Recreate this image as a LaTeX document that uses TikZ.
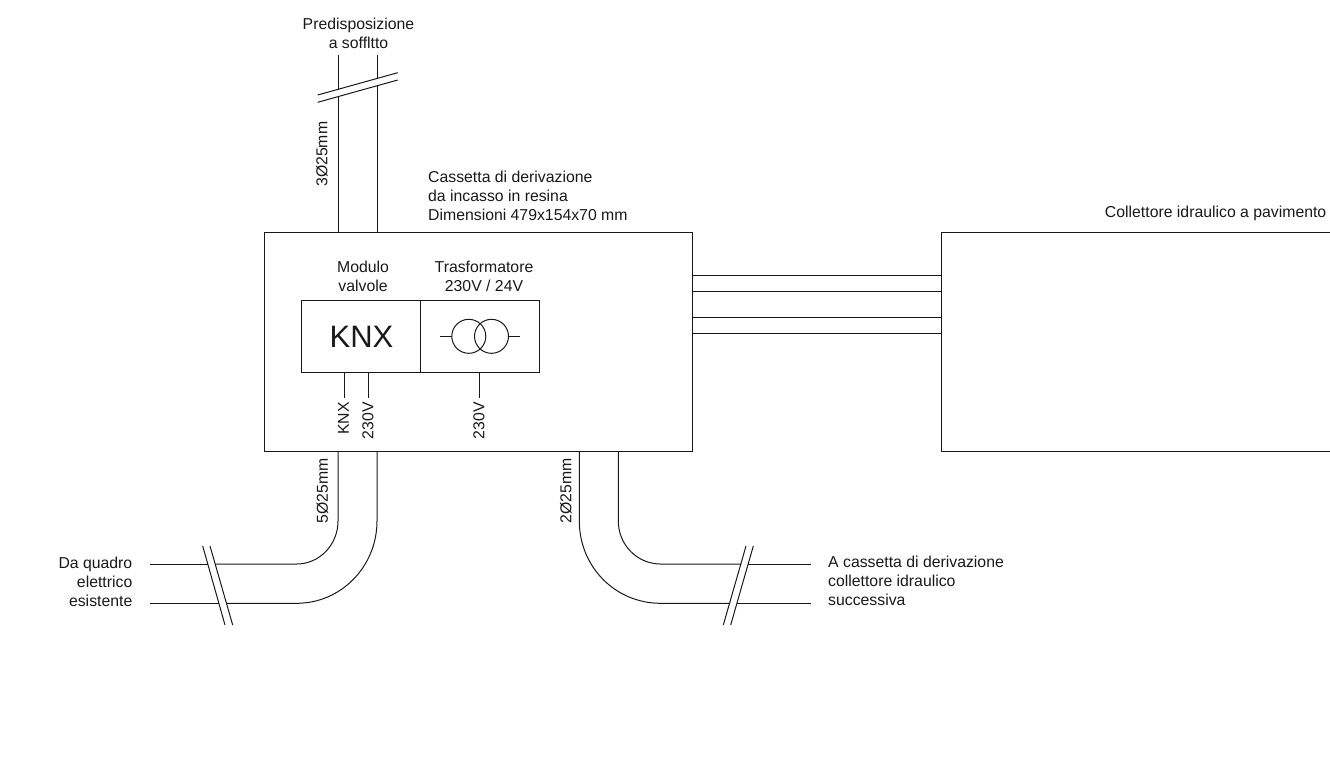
\documentclass[tikz,border=0pt]{standalone}
\usepackage{fontspec}
\setmainfont{Liberation Sans}
\tikzset{
  wire/.style={draw=black!90,line width=1pt},
  lab/.style={inner sep=0pt,font=\fontsize{15.8}{19}\selectfont,text=black!90},
}
\begin{document}
\begin{tikzpicture}[x=1pt,y=-1pt]
\useasboundingbox (0,0) rectangle (1330,764);
% boxes
\draw[wire] (264.5,232) rectangle (692.5,451.5);
\draw[wire] (1330,232) -- (941,232) -- (941,451.5) -- (1330,451.5);
\draw[wire] (301.5,300) rectangle (539.5,372.7);
\draw[wire] (420.3,300) -- (420.3,372.7);
% transformer
\draw[wire] (468.8,336.3) circle (17);
\draw[wire] (491.5,336.3) circle (17);
\draw[wire] (440.3,336.3) -- (451.8,336.3);
\draw[wire] (508.5,336.3) -- (520,336.3);
\node[font=\fontsize{31}{31}\selectfont,text=black!90,inner sep=0pt] at (361.5,337) {KNX};
% stubs
\draw[wire] (344.3,372.7) -- (344.3,398);
\draw[wire] (368.7,372.7) -- (368.7,398);
\draw[wire] (479.7,372.7) -- (479.7,398);
\node[lab,rotate=90,anchor=east] at (343.5,402) {KNX};
\node[lab,rotate=90,anchor=east] at (368,402) {230V};
\node[lab,rotate=90,anchor=east] at (479,402) {230V};
% top
\draw[wire] (338,55) -- (338,89.5) (338,97) -- (338,232);
\draw[wire] (377.3,55) -- (377.3,78) (377.3,85.5) -- (377.3,232);
\draw[wire] (317.7,95) -- (397.7,72.7);
\draw[wire] (317.7,102.3) -- (397.7,80);
% bottom left
\draw[wire] (338,451.5) -- (338,521) .. controls (338,544.7) and (319.5,564) .. (296.7,564) -- (215,564);
\draw[wire] (208,564) -- (150,564);
\draw[wire] (377,451.5) -- (377,521) .. controls (377,566.5) and (341,603.3) .. (296.7,603.3) -- (226,603.3);
\draw[wire] (219,603.3) -- (150,603.3);
\draw[wire] (202.7,546) -- (225,625);
\draw[wire] (210,546) -- (232.7,625);
% bottom right
\draw[wire] (618.3,451.5) -- (618.3,521) .. controls (618.3,544.7) and (637,564) .. (660.7,564) -- (741,564);
\draw[wire] (748,564) -- (810.7,564);
\draw[wire] (579.3,451.5) -- (579.3,521) .. controls (579.3,566.5) and (615,603.3) .. (660.7,603.3) -- (730,603.3);
\draw[wire] (737,603.3) -- (810.7,603.3);
\draw[wire] (746,546) -- (723.3,625);
\draw[wire] (753.3,546) -- (730.7,625);
% to collector
\foreach \y in {275,291,317,333}{
  \draw[wire] (692.5,\y) -- (941,\y);
}
% labels
\node[lab,align=center,anchor=north] at (358.5,17.5) {Predisposizione\\a soffltto};
\node[lab,rotate=90,anchor=east] at (322,121.5) {3Ø25mm};
\node[lab,rotate=90,anchor=west] at (322.5,523.5) {5Ø25mm};
\node[lab,rotate=90,anchor=west] at (566,523.5) {2Ø25mm};
\node[lab,align=left,anchor=north west] at (428,170.5) {Cassetta di derivazione\\da incasso in resina\\Dimensioni 479x154x70 mm};
\node[lab,align=center,anchor=north] at (363,260.5) {Modulo\\valvole};
\node[lab,align=center,anchor=north] at (484,260.5) {Trasformatore\\230V / 24V};
\node[lab,anchor=base east] at (1326.5,217) {Collettore idraulico a pavimento};
\node[lab,align=right,anchor=north east] at (132.5,557) {Da quadro\\elettrico\\esistente};
\node[lab,align=left,anchor=north west] at (828,556) {A cassetta di derivazione\\collettore idraulico\\successiva};
\end{tikzpicture}
\end{document}
